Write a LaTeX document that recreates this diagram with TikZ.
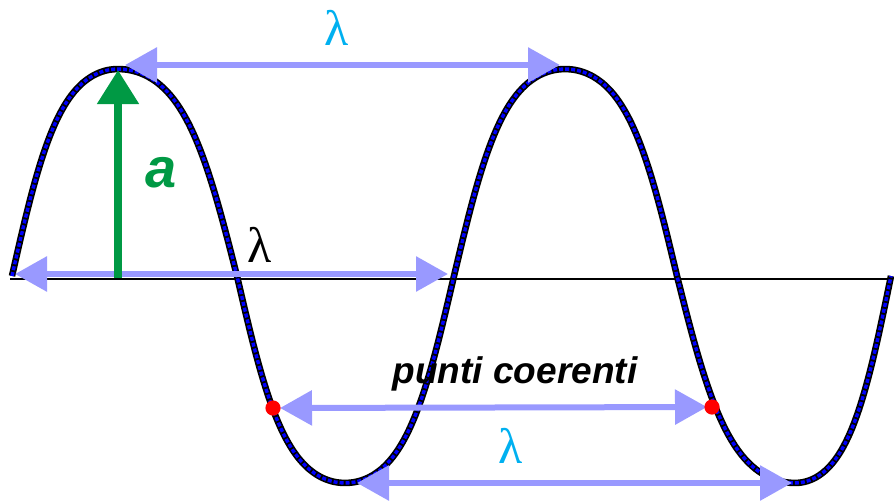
\documentclass[tikz,border=0pt]{standalone}
\usepackage{fontspec}
\setmainfont{Liberation Sans}
\newfontfamily\lamfont{Liberation Serif}
\usetikzlibrary{arrows.meta}
\definecolor{spanblue}{RGB}{153,153,255}
\definecolor{lamcyan}{RGB}{0,176,240}
\definecolor{ampgreen}{RGB}{0,153,68}
\definecolor{wavedash}{RGB}{0,0,255}
\definecolor{dotred}{RGB}{255,0,0}
\begin{document}
\begin{tikzpicture}[x=0.5pt,y=-0.5pt,
  span/.style={spanblue,line width=3pt,{Triangle[length=16pt,width=17pt]}-{Triangle[length=16pt,width=17pt]}},
  wave/.style={line width=3.3pt,postaction={draw,wavedash,line width=1.7pt,dash pattern=on 2pt off 1pt}},
  lam/.style={font=\lamfont\fontsize{25}{25}\selectfont,anchor=base}]
\useasboundingbox (0,0) rectangle (894,503);
% axis
\coordinate (o) at (10,279);
\coordinate (e) at (889,279);
\draw[line width=1.4pt] (o) -- (e);
% wave, one quarter at a time
\draw[wave] (12,276) \foreach \a/\b/\p in {12/118/0,118/237/90,237/345/180,345/454/270,454/565/360,565/677/450,677/795/540,795/891/630}{
  -- plot[variable=\t,domain=0:90,samples=40,smooth] ({\a+(\b-\a)*\t/90},{276-207*tanh(1.2*sin(\p+\t))/0.8337})};
% wavelength spans
\coordinate (t1) at (125,65);
\coordinate (t2) at (560,65);
\draw[span] (t1) -- (t2);
\coordinate (m1) at (15,274);
\coordinate (m2) at (448,274);
\draw[span] (m1) -- (m2);
\coordinate (p1) at (273,408);
\coordinate (p2) at (712,407);
\draw[span,shorten <=3.5pt,shorten >=2.5pt] (p1) -- (p2);
\coordinate (b1) at (357,483);
\coordinate (b2) at (792,483);
\draw[span] (b1) -- (b2);
% amplitude
\coordinate (base) at (118,278);
\coordinate (crest) at (118,70);
\draw[ampgreen,line width=4pt,-{Triangle[length=17pt,width=20pt]}] (base) -- (crest);
% coherent points
\fill[dotred] (p1) circle (3.8pt);
\fill[dotred] (p2) circle (3.8pt);
% labels
\node[lam,text=lamcyan] (lamtop) at (337,45) {λ};
\node[lam] (lammid) at (260,262) {λ};
\node[lam,text=lamcyan] (lambot) at (511,463) {λ};
\node[font=\bfseries\itshape\fontsize{28}{28}\selectfont,text=ampgreen,anchor=base] (amp) at (161,187) {a};
\node[font=\bfseries\itshape\fontsize{18.5}{20}\selectfont,anchor=base] (coer) at (515,383) {punti coerenti};
\end{tikzpicture}
\end{document}
